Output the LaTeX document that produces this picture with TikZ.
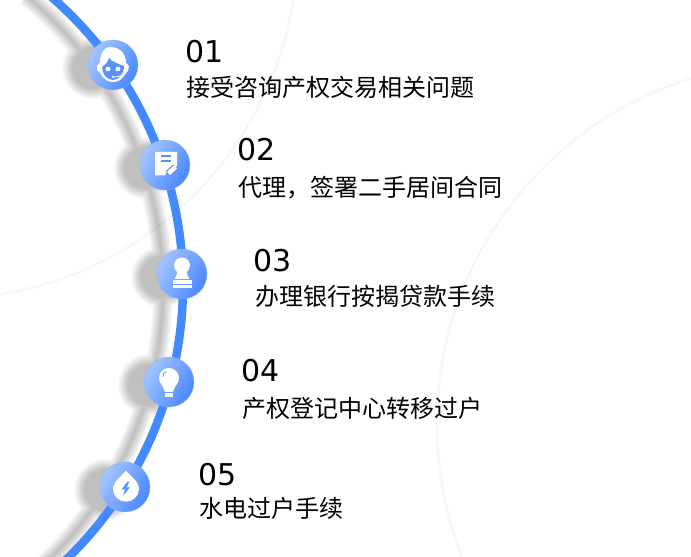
\documentclass[tikz,border=0pt]{standalone}
\usepackage{fontspec}
\setmainfont{Noto Sans CJK SC}
\newfontfamily\digitfont{DejaVu Sans}
\definecolor{linkblue}{HTML}{4389FF}
\definecolor{iconblue}{HTML}{5B92F5}
\definecolor{dotlight}{HTML}{A3C4FF}
\definecolor{dotdark}{HTML}{4A88FF}
\definecolor{dotedge}{HTML}{8CBCD8}
\definecolor{ringblue}{HTML}{F5F7FF}
\tikzset{
    stepdot/.style={circle,minimum size=50pt,inner sep=0pt,draw=dotedge,line width=.3pt,shading=axis,left color=dotlight,right color=dotdark,shading angle=60},
    numlabel/.style={anchor=west,inner sep=0pt,font=\digitfont\fontsize{30}{30}\selectfont},
    textlabel/.style={anchor=west,inner sep=0pt,font=\fontsize{24}{24}\selectfont},
    faintring/.style={draw=ringblue,line width=2.5pt}
}
\begin{document}
\begin{tikzpicture}[x=1pt,y=1pt]
    \useasboundingbox (0,0) rectangle (691,557);
    \clip (0,0) rectangle (691,557);
    \fill[white] (0,0) rectangle (691,557);
    % faint rings
    \draw[faintring] (-56.5,612) circle [radius=354pt];
    \draw[faintring] (799,133) circle [radius=362pt];
    % soft shadow
    \foreach \w/\r in {1/21,3/22,5/23,7/24,9/25,11/26,13/27,15/28,17/29,19/30,20/31} {
        \begin{scope}[shift={(-20,-3)},opacity=.022,transparency group]
            \draw[black,line width=\w pt] (-198,272) ++(50:381pt) arc [start angle=50, end angle=-47, radius=381pt];
            \fill[black] (113,492) circle [radius=\r pt];
            \fill[black] (165,392) circle [radius=\r pt];
            \fill[black] (182,283) circle [radius=\r pt];
            \fill[black] (169,175) circle [radius=\r pt];
            \fill[black] (125,70) circle [radius=\r pt];
        \end{scope}
    }
    % main line
    \draw[linkblue,line width=8.5pt] (-198,272) ++(50:381pt) arc [start angle=50, end angle=-47, radius=381pt];
    % dots
    \node[stepdot] (dot01) at (113,492) {};
    \node[stepdot] (dot02) at (165,392) {};
    \node[stepdot] (dot03) at (182,283) {};
    \node[stepdot] (dot04) at (169,175) {};
    \node[stepdot] (dot05) at (125,70) {};
    % icon 1, head with headset
    \begin{scope}[shift={(dot01.center)}]
        \fill[white] (-3,18) .. controls (8,18) and (13,10) .. (13,2) -- (16,-1) -- (15,-6) -- (13,-8) .. controls (9,-15) and (5,-17) .. (0,-17) .. controls (-5,-17) and (-9,-15) .. (-13,-8) -- (-16,-5) -- (-16,-1) -- (-13,2) .. controls (-13,10) and (-10,18) .. (-3,18) -- cycle;
        \fill[iconblue] (-4,7) .. controls (-1,3) and (6,1) .. (11,-1) .. controls (11,-9) and (6,-15) .. (0,-15) .. controls (-6,-15) and (-11,-9) .. (-11,-2) .. controls (-8,0) and (-5,3) .. (-4,7) -- cycle;
        \fill[white] (-5,-4) circle [radius=2.4pt];
        \fill[white] (5,-4) circle [radius=2.4pt];
        \draw[white,line width=.8pt] (11,-8) .. controls (9,-11) and (5,-12) .. (1,-12);
        \fill[white] (0,-12) circle [radius=1.2pt];
    \end{scope}
    % icon 2, sheet and pen
    \begin{scope}[shift={(dot02.center)}]
        \fill[white] (-10,13) -- (12,13) -- (12,-1) -- (1,-8) -- (0,-10.5) -- (-10,-10.5) -- cycle;
        \fill[iconblue] (-4,8.2) rectangle (6,9.8);
        \fill[iconblue] (-4,3.2) rectangle (6,4.8);
        \draw[iconblue,line width=7pt] (3,-9) -- (10.5,-2);
        \draw[white,line width=4.5pt] (3.5,-8.5) -- (10.5,-2);
    \end{scope}
    % icon 3, stamp
    \begin{scope}[shift={(dot03.center)}]
        \fill[white] (0,8.5) circle [radius=8pt];
        \fill[white] (-4.5,3) -- (4.5,3) .. controls (4.5,0) and (6,-2) .. (7.5,-5) -- (-7.5,-5) .. controls (-6,-2) and (-4.5,0) .. (-4.5,3) -- cycle;
        \fill[white] (-9.5,-6.5) rectangle (9.5,-10);
        \fill[white] (-9.5,-11.5) rectangle (9.5,-13.7);
    \end{scope}
    % icon 4, bulb
    \begin{scope}[shift={(dot04.center)}]
        \fill[white] (-4,-10) .. controls (-5,-4) and (-10,-2) .. (-10,4) .. controls (-10,10) and (-5,14) .. (0,14) .. controls (5,14) and (10,10) .. (10,4) .. controls (10,-2) and (5,-4) .. (4,-10) -- cycle;
        \fill[white] (-4,-11.5) rectangle (4,-15.5);
        \draw[iconblue,line width=.8pt] (-6,5) .. controls (-6,8) and (-5,9.5) .. (-2.5,10.5);
    \end{scope}
    % icon 5, drop
    \begin{scope}[shift={(dot05.center)}]
        \fill[white] (1,16.5) .. controls (5,11) and (14,6) .. (14,-2) .. controls (14,-9) and (8,-14.7) .. (1,-14.7) .. controls (-6,-14.7) and (-12,-9) .. (-12,-2) .. controls (-12,6) and (-3,11) .. (1,16.5) -- cycle;
        \fill[iconblue] (2.3,5.3) -- (-3.3,-2.3) -- (0,-2.3) -- (-1.7,-8.7) -- (5,-.3) -- (1.7,-.3) -- (4.3,5.3) -- cycle;
    \end{scope}
    % labels
    \node[numlabel] (num01) at (185,505) {01};
    \node[textlabel] (txt01) at (186,470) {接受咨询产权交易相关问题};
    \node[numlabel] (num02) at (237,407) {02};
    \node[textlabel] (txt02) at (238,369) {代理，签署二手居间合同};
    \node[numlabel] (num03) at (253,296) {03};
    \node[textlabel] (txt03) at (255,261) {办理银行按揭贷款手续};
    \node[numlabel] (num04) at (241,186) {04};
    \node[textlabel] (txt04) at (242,149) {产权登记中心转移过户};
    \node[numlabel] (num05) at (198,82) {05};
    \node[textlabel] (txt05) at (199,49) {水电过户手续};
\end{tikzpicture}
\end{document}
